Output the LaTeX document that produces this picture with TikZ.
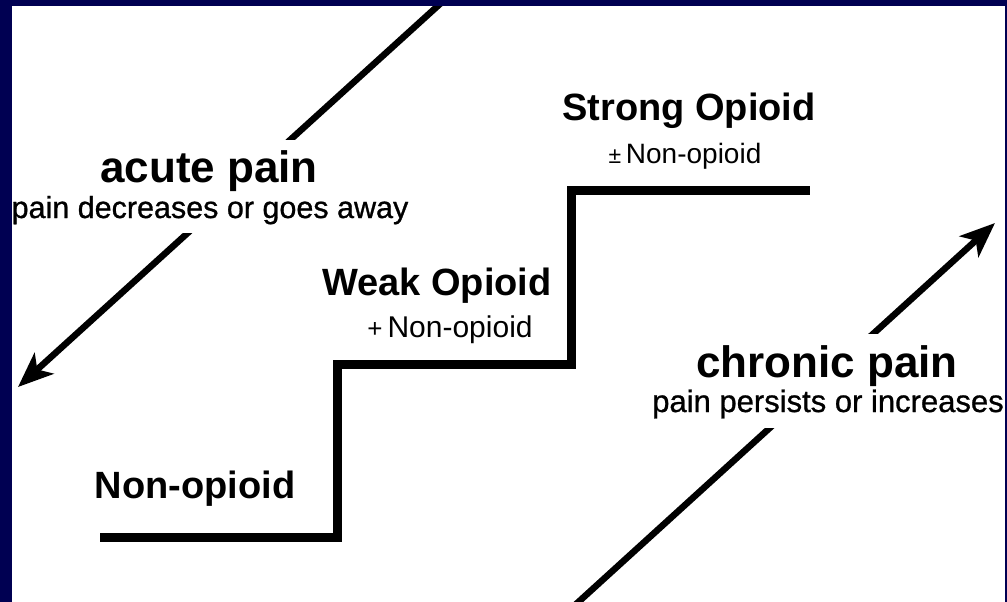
\documentclass[tikz,border=0pt]{standalone}
\usepackage{fontspec}
\setmainfont{Liberation Sans}
\newfontfamily\medsans{Liberation Sans}[FakeBold=0.9]
\usetikzlibrary{arrows.meta}
\definecolor{navy}{RGB}{0,0,82}
\begin{document}
\begin{tikzpicture}[x=1pt,y=-1pt,
 bigtitle/.style={font=\bfseries\fontsize{44}{50}\selectfont, anchor=base, inner sep=0pt},
 steptitle/.style={font=\bfseries\fontsize{38}{44}\selectfont, anchor=base, inner sep=0pt},
 subtext/.style={font=\medsans\fontsize{30.5}{36}\selectfont, anchor=base, inner sep=0pt},
 stepsub/.style={font=\fontsize{28}{32}\selectfont, anchor=base, inner sep=0pt},
 painarrow/.style={line width=6.5pt, -{Stealth[length=35pt,width=28pt,inset=9pt]}},
 stair/.style={line width=9pt, line join=miter},
 cover/.style={fill=white, inner sep=0pt, anchor=north west}
]
\useasboundingbox (0,0) rectangle (1007,602);
\fill[white] (0,0) rectangle (1007,602);

% arrows
\coordinate (acuteStart) at (441,3);
\coordinate (acuteEnd) at (18,387);
\draw[painarrow] (acuteStart) -- (acuteEnd);
\coordinate (chronStart) at (574,606);
\coordinate (chronEnd) at (995,223);
\draw[painarrow] (chronStart) -- (chronEnd);

% white boxes behind the labels
\node[cover, minimum width=396pt, minimum height=93pt] (acuteBox) at (12,140) {};
\node[cover, minimum width=357pt, minimum height=94pt] (chronBox) at (648,334) {};

% labels
\node[bigtitle] (acute) at (209,182) {acute pain};
\node[subtext] (acuteSub) at (210,218) {pain decreases or goes away};
\node[bigtitle] (chronic) at (827,377) {chronic pain};
\node[subtext, font=\medsans\fontsize{31}{36}\selectfont] (chronicSub) at (828,412) {pain persists or increases};

% staircase
\draw[stair] (100,537) -- (337,537) -- (337,364) -- (571,364) -- (571,190) -- (810,190);

\node[steptitle] (nonop) at (195,498) {Non-opioid};
\node[steptitle] (weak) at (437,295) {Weak Opioid};
\node[stepsub, font=\fontsize{30}{34}\selectfont] (weakSub) at (450,337) {{\fontsize{26}{26}\selectfont +}\,Non-opioid};
\node[stepsub] (strongSub) at (685,163) {{\fontsize{23}{23}\selectfont ±}\,Non-opioid};
\node[steptitle] (strong) at (689,120) {Strong Opioid};

% frame
\fill[navy] (0,0) rectangle (12,602);
\fill[navy] (0,0) rectangle (1007,6);
\fill[navy] (1005,0) rectangle (1007,602);
\end{tikzpicture}
\end{document}
